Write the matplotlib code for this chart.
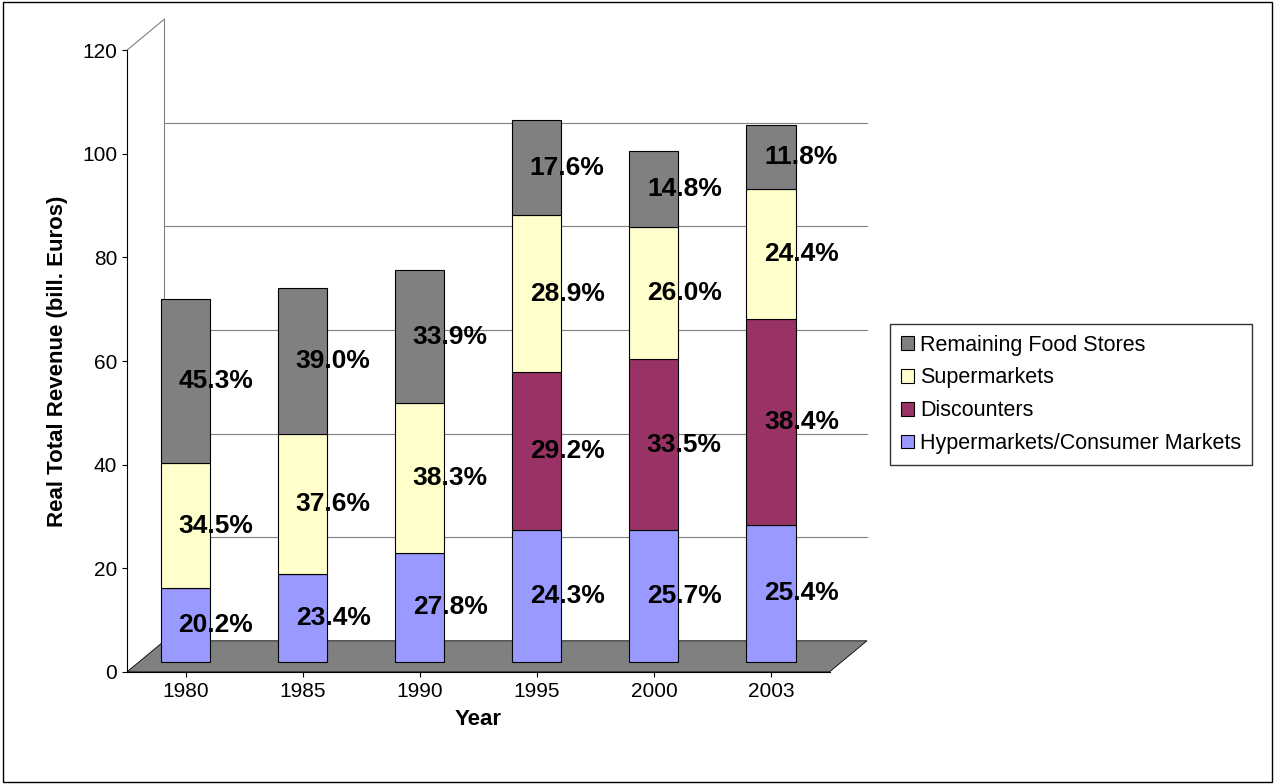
import matplotlib
matplotlib.use("Agg")
import matplotlib.pyplot as plt
from matplotlib.patches import Rectangle, Polygon

plt.rcParams['font.family'] = ['Liberation Sans', 'DejaVu Sans']

years = ["1980", "1985", "1990", "1995", "2000", "2003"]
totals = [70.0, 72.0, 75.5, 104.5, 98.5, 103.5]
hyper = [20.2, 23.4, 27.8, 24.3, 25.7, 25.4]
disc = [0.0, 0.0, 0.0, 29.2, 33.5, 38.4]
superm = [34.5, 37.6, 38.3, 28.9, 26.0, 24.4]
remain = [45.3, 39.0, 33.9, 17.6, 14.8, 11.8]

series = [("Hypermarkets/Consumer Markets", hyper, "#9999FF"),
          ("Discounters", disc, "#993366"),
          ("Supermarkets", superm, "#FFFFCC"),
          ("Remaining Food Stores", remain, "#808080")]

fig = plt.figure(figsize=(12.75, 7.84), dpi=100)
fig.patches.append(Rectangle((0.002, 0.002), 0.996, 0.996, transform=fig.transFigure,
                             fill=False, edgecolor="black", lw=1))
ax = fig.add_axes([0.0996, 0.143, 0.551, 0.793])
ax.set_xlim(-0.5, 5.5)
ax.set_ylim(0, 120)
ax.set_yticks(range(0, 121, 20))
D = 6.0
dx = 0.32
for y in range(20, 101, 20):
    ax.plot([-0.5 + dx, 5.5 + dx], [y + D, y + D], color="#808080", lw=0.8,
            clip_on=False, zorder=0)
ax.add_patch(Polygon([(-0.5, 0), (5.5, 0), (5.5 + dx, D), (-0.5 + dx, D)], closed=True,
                     facecolor="#808080", edgecolor="black", lw=0.6, zorder=1, clip_on=False))
ax.plot([-0.5 + dx, -0.5 + dx], [D, 120 + D], color="#808080", lw=0.8, clip_on=False, zorder=0)
ax.plot([-0.5, -0.5 + dx], [120, 120 + D], color="#808080", lw=0.8, clip_on=False, zorder=0)
x = list(range(len(years)))
bottoms = [2.0] * len(years)
for name, pct, col in series:
    vals = [t * p / 100 for t, p in zip(totals, pct)]
    ax.bar(x, vals, width=0.42, bottom=bottoms, color=col, edgecolor="black",
           lw=0.8, label=name, zorder=3)
    for i, (v, p) in enumerate(zip(vals, pct)):
        if v > 0:
            ax.text(i + 0.26, bottoms[i] + v / 2, f"{p:.1f}%", ha="center", va="center",
                    fontsize=19, fontweight="bold", zorder=5)
    bottoms = [b + v for b, v in zip(bottoms, vals)]

ax.set_xticks(x)
ax.set_xticklabels(years, fontsize=15)
ax.tick_params(axis="y", labelsize=15)
for s in ["top", "right"]:
    ax.spines[s].set_visible(False)
ax.set_xlabel("Year", fontsize=16, fontweight="bold", labelpad=6)
ax.set_ylabel("Real Total Revenue (bill. Euros)", fontsize=16, fontweight="bold", labelpad=10)
h, l = ax.get_legend_handles_labels()
fig.legend(h[::-1], l[::-1], loc="center left", bbox_to_anchor=(0.698, 0.497),
           fontsize=15.5, frameon=True, fancybox=False, edgecolor="black",
           handlelength=0.6, handleheight=0.6, labelspacing=0.55, handletextpad=0.3,
           borderpad=0.5, borderaxespad=0)
fig.savefig("out.png", dpi=100)
